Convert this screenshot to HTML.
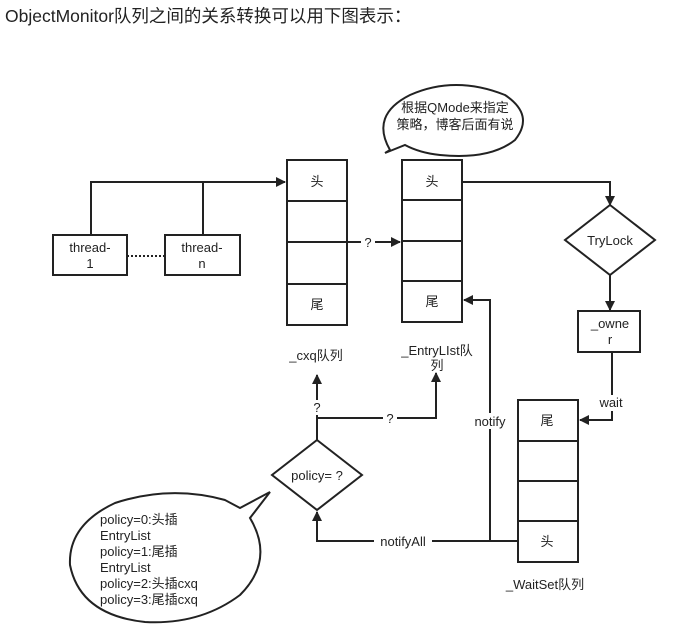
<!DOCTYPE html>
<html><head><meta charset="utf-8"><style>
body{margin:0;background:#fff;width:680px;height:630px;overflow:hidden}
svg{display:block}
text{font-family:"Liberation Sans","Noto Sans CJK SC",sans-serif;font-size:13px;fill:#222}
</style></head><body>
<svg width="680" height="630" viewBox="0 0 680 630">
<defs><marker id="a" markerWidth="10" markerHeight="10" refX="9" refY="5" orient="auto" markerUnits="userSpaceOnUse"><path d="M0,0 L10,5 L0,10 z" fill="#222"/></marker></defs>
<text x="5" y="22" style="font-size:17.5px">ObjectMonitor队列之间的关系转换可以用下图表示：</text>
<g stroke="#222" stroke-width="2" fill="none">
<rect x="53" y="235" width="74" height="40" fill="#fff"/>
<rect x="165" y="235" width="75" height="40" fill="#fff"/>
<line x1="127" y1="256" x2="165" y2="256" stroke-dasharray="2,2"/>
<path d="M91,235 V182 H285" marker-end="url(#a)"/>
<path d="M203,235 V182"/>
<rect x="287" y="160" width="60" height="165" fill="#fff"/>
<line x1="287" y1="201" x2="347" y2="201"/><line x1="287" y1="242" x2="347" y2="242"/><line x1="287" y1="284" x2="347" y2="284"/>
<rect x="402" y="160" width="60" height="162" fill="#fff"/>
<line x1="402" y1="200" x2="462" y2="200"/><line x1="402" y1="241" x2="462" y2="241"/><line x1="402" y1="281" x2="462" y2="281"/>
<path d="M347,242 H400" marker-end="url(#a)"/>
<path d="M462,182 H610 V205" marker-end="url(#a)"/>
<path d="M610,205 L655,240 L610,275 L565,240 Z" fill="#fff"/>
<path d="M610,275 V310" marker-end="url(#a)"/>
<rect x="578" y="311" width="62" height="41" fill="#fff"/>
<path d="M612,352 V420 H580" marker-end="url(#a)"/>
<rect x="518" y="400" width="60" height="162" fill="#fff"/>
<line x1="518" y1="441" x2="578" y2="441"/><line x1="518" y1="481" x2="578" y2="481"/><line x1="518" y1="521" x2="578" y2="521"/>
<path d="M518,541 H317 V512" marker-end="url(#a)"/>
<path d="M490,541 V300 H464" marker-end="url(#a)"/>
<path d="M317,440 L362,475 L317,510 L272,475 Z" fill="#fff"/>
<path d="M317,440 V375" marker-end="url(#a)"/>
<path d="M317,418 H436 V373" marker-end="url(#a)"/>
<path d="M390,150 Q370,115 410,95 Q455,75 505,95 Q535,115 515,140 Q490,160 440,155 Q420,153 405,145 L385,153 Z" fill="#fff"/>
<path d="M240,508 L270,492 L250,518 Q275,560 240,595 Q200,625 145,622 Q80,615 70,565 Q68,525 115,503 Q170,485 225,500 Z" fill="#fff"/>
</g>
<rect x="361" y="234" width="14" height="15" fill="#fff"/>
<rect x="310" y="400" width="14" height="15" fill="#fff"/>
<rect x="383" y="411" width="14" height="15" fill="#fff"/>
<rect x="470" y="413" width="40" height="16" fill="#fff"/>
<rect x="374" y="533" width="58" height="16" fill="#fff"/>
<rect x="596" y="395" width="30" height="16" fill="#fff"/>
<g text-anchor="middle">
<text x="90" y="252">thread-</text><text x="90" y="268">1</text>
<text x="202" y="252">thread-</text><text x="202" y="268">n</text>
<text x="317" y="186">头</text><text x="317" y="309">尾</text>
<text x="432" y="186">头</text><text x="432" y="306">尾</text>
<text x="368" y="247">?</text>
<text x="316" y="360">_cxq队列</text>
<text x="437" y="355">_EntryLIst队</text><text x="437" y="370">列</text>
<text x="455" y="112">根据QMode来指定</text><text x="455" y="129">策略，博客后面有说</text>
<text x="610" y="245">TryLock</text>
<text x="610" y="328">_owne</text><text x="610" y="344">r</text>
<text x="611" y="407">wait</text>
<text x="547" y="425">尾</text><text x="547" y="546">头</text>
<text x="545" y="589">_WaitSet队列</text>
<text x="490" y="426">notify</text>
<text x="403" y="546">notifyAll</text>
<text x="317" y="480">policy= ?</text>
<text x="317" y="412">?</text>
<text x="390" y="423">?</text>
</g>
<g>
<text x="100" y="524">policy=0:头插</text>
<text x="100" y="540">EntryList</text>
<text x="100" y="556">policy=1:尾插</text>
<text x="100" y="572">EntryList</text>
<text x="100" y="588">policy=2:头插cxq</text>
<text x="100" y="604">policy=3:尾插cxq</text>
</g>
</svg>
</body></html>
